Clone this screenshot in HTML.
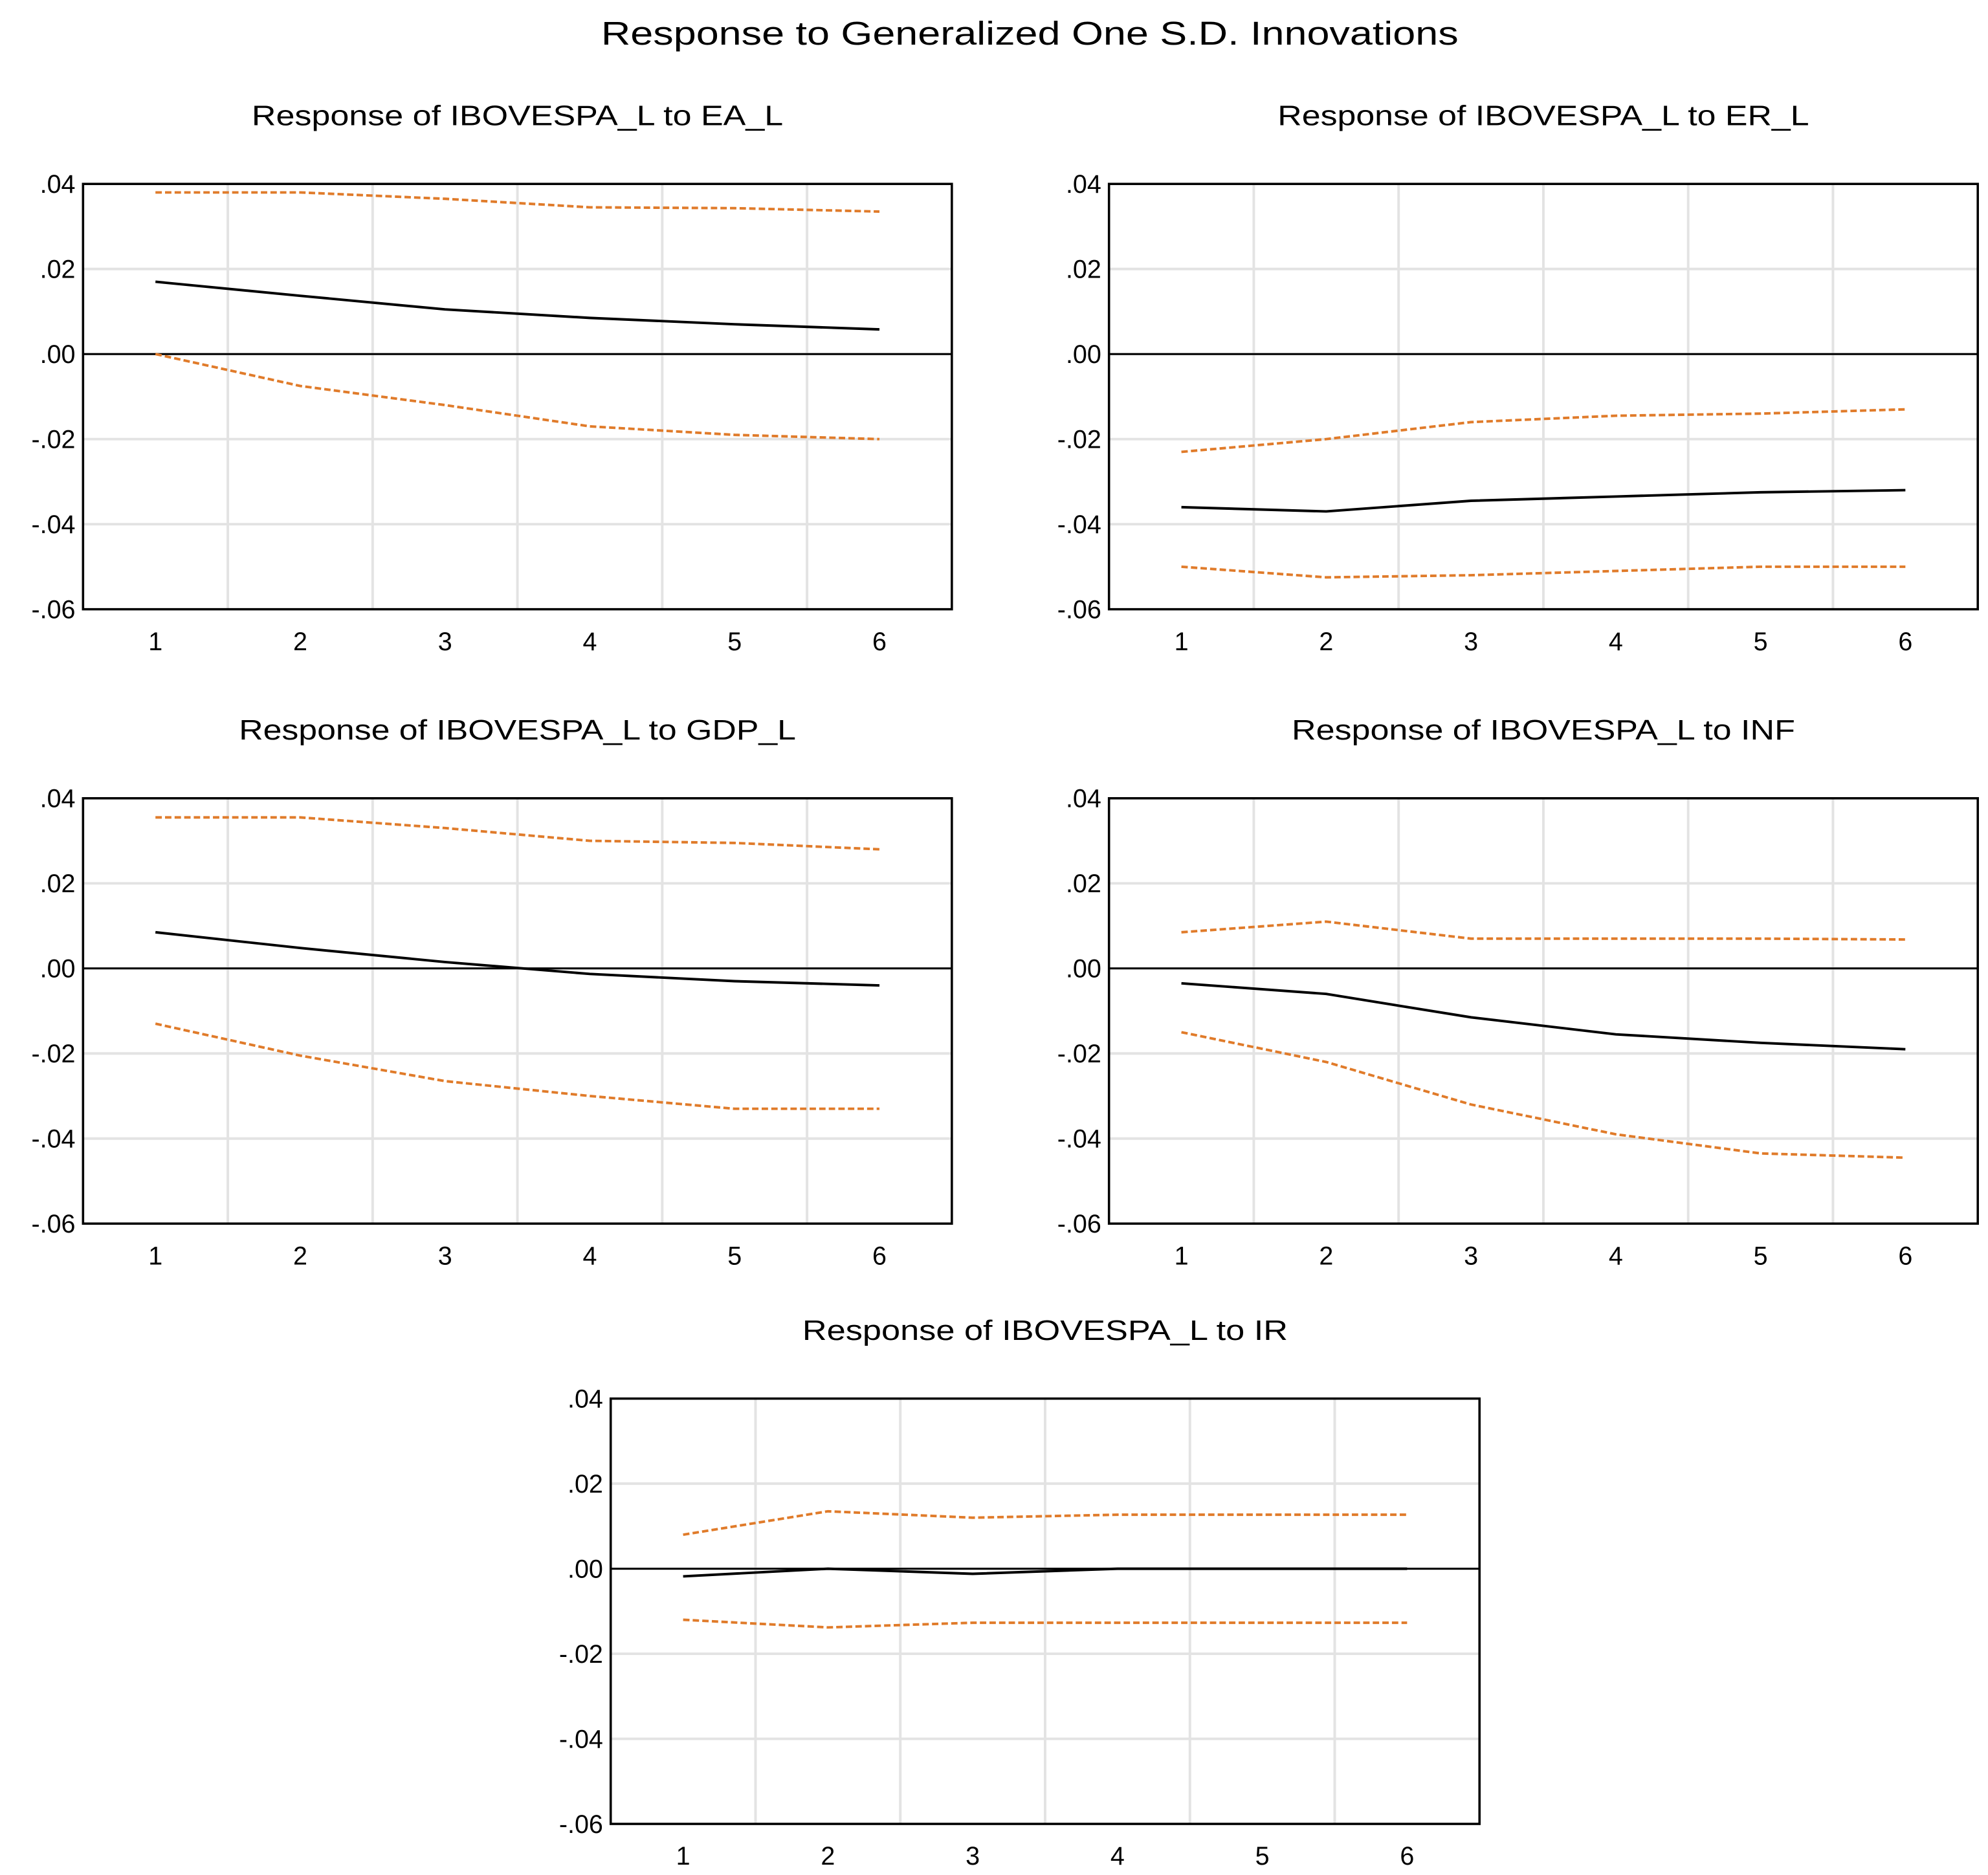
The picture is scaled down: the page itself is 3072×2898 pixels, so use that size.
<!DOCTYPE html>
<html><head><meta charset="utf-8"><style>
html,body{margin:0;padding:0;background:#fff}
svg{display:block}
text{font-family:"Liberation Sans",sans-serif;fill:#000}
</style></head><body>
<svg id="chart" width="3072" height="2898" viewBox="0 0 1556 1468" preserveAspectRatio="none" xmlns="http://www.w3.org/2000/svg">
<text x="806" y="35" font-size="26" text-anchor="middle" textLength="671" lengthAdjust="spacingAndGlyphs">Response to Generalized One S.D. Innovations</text>
</svg>
<script>
const periods = [1,2,3,4,5,6];
const yTicks = [0.04,0.02,0.00,-0.02,-0.04,-0.06];
const yTickLabels = [".04",".02",".00","-.02","-.04","-.06"];
const titles = ["Response of IBOVESPA_L to EA_L","Response of IBOVESPA_L to ER_L","Response of IBOVESPA_L to GDP_L","Response of IBOVESPA_L to INF","Response of IBOVESPA_L to IR"];
const titleWidths = [416,416,436,394,380];
const irfEA = [0.017,0.0137,0.0105,0.0085,0.007,0.0058];
const upEA = [0.038,0.038,0.0365,0.0345,0.0343,0.0335];
const loEA = [0.0,-0.0075,-0.012,-0.017,-0.019,-0.020];
const irfER = [-0.036,-0.037,-0.0345,-0.0335,-0.0325,-0.032];
const upER = [-0.023,-0.020,-0.016,-0.0145,-0.014,-0.013];
const loER = [-0.050,-0.0525,-0.052,-0.051,-0.050,-0.050];
const irfGDP = [0.0085,0.0048,0.0015,-0.0013,-0.003,-0.004];
const upGDP = [0.0355,0.0355,0.033,0.030,0.0295,0.028];
const loGDP = [-0.013,-0.0205,-0.0265,-0.030,-0.033,-0.033];
const irfINF = [-0.0035,-0.006,-0.0115,-0.0155,-0.0175,-0.019];
const upINF = [0.0085,0.011,0.007,0.007,0.007,0.0068];
const loINF = [-0.015,-0.022,-0.032,-0.039,-0.0435,-0.0445];
const irfIR = [-0.0018,0.0,-0.0012,0.0,0.0,0.0];
const upIR = [0.008,0.0135,0.012,0.0127,0.0127,0.0127];
const loIR = [-0.012,-0.0138,-0.0127,-0.0127,-0.0127,-0.0127];

const svg = document.getElementById('chart');
const NS = 'http://www.w3.org/2000/svg';
function mk(tag, attrs, parent){const e=document.createElementNS(NS,tag);for(const k in attrs)e.setAttribute(k,attrs[k]);(parent||svg).appendChild(e);return e;}

const panels = [
 {key:'ea',x:65,y:144,ti:0,irf:irfEA,up:upEA,lo:loEA},
 {key:'er',x:868,y:144,ti:1,irf:irfER,up:upER,lo:loER},
 {key:'gdp',x:65,y:625,ti:2,irf:irfGDP,up:upGDP,lo:loGDP},
 {key:'inf',x:868,y:625,ti:3,irf:irfINF,up:upINF,lo:loINF},
 {key:'ir',x:478,y:1095,ti:4,irf:irfIR,up:upIR,lo:loIR}
];
const W=680,H=333;
panels.forEach(p=>{
  const g=mk('g',{});
  
  
  const xs=v=>p.x+(v-0.5)/6*W;
  const ys=v=>p.y+(0.04-v)/0.10*H;
  const tt=mk('text',{x:p.x+W/2,y:p.y-46,'font-size':22,'text-anchor':'middle',textLength:titleWidths[p.ti],lengthAdjust:'spacingAndGlyphs'},g);
  tt.textContent=titles[p.ti];
  
  
  yTicks.forEach(v=>{ if(v<0.04&&v>-0.06){const l=mk('line',{x1:p.x,x2:p.x+W,y1:ys(v),y2:ys(v),stroke:'#e3e3e3','stroke-width':2},g);
    
    }});
  for(let i=1;i<periods.length;i++){const v=periods[i]-0.5;const l=mk('line',{x1:xs(v),x2:xs(v),y1:p.y,y2:p.y+H,stroke:'#e3e3e3','stroke-width':2},g);
    
    }
  const z=mk('line',{x1:p.x,x2:p.x+W,y1:ys(0),y2:ys(0),stroke:'#000','stroke-width':1.5},g);
  
  
  const pts=a=>a.map((v,i)=>xs(periods[i])+','+ys(v)).join(' ');
  const u=mk('polyline',{points:pts(p.up),fill:'none',stroke:'#E07B2A','stroke-width':2,'stroke-dasharray':'5,2.5'},g);
  
  
  const lo=mk('polyline',{points:pts(p.lo),fill:'none',stroke:'#E07B2A','stroke-width':2,'stroke-dasharray':'5,2.5'},g);
  
  
  const r=mk('polyline',{points:pts(p.irf),fill:'none',stroke:'#000','stroke-width':2},g);
  
  
  const b=mk('rect',{x:p.x,y:p.y,width:W,height:H,fill:'none',stroke:'#000','stroke-width':1.8},g);
  
  
  yTicks.forEach((v,i)=>{const t=mk('text',{x:p.x-6,y:ys(v)+7,'font-size':20,'text-anchor':'end'},g);t.textContent=yTickLabels[i];
    
    });
  periods.forEach(v=>{const t=mk('text',{x:xs(v),y:p.y+H+32,'font-size':20,'text-anchor':'middle'},g);t.textContent=String(v);
    
    });
});
</script>
</body></html>
